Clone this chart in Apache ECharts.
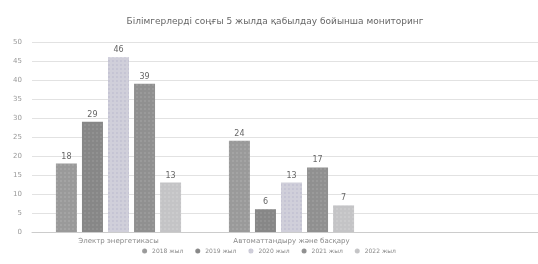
<!DOCTYPE html>
<html>
<head>
<meta charset="utf-8">
<script src="https://cdn.jsdelivr.net/npm/echarts@6/dist/echarts.min.js"></script>
<style>
html,body{margin:0;padding:0;background:#fff;}
#chart{width:538px;height:264px;}
</style>
</head>
<body>
<div id="chart"></div>
<script>
var titleText = 'Білімгерлерді соңғы 5 жылда қабылдау бойынша мониторинг';
var categories = ['Электр энергетикасы', 'Автоматтандыру және басқару'];
var years = ['2018 жыл', '2019 жыл', '2020 жыл', '2021 жыл', '2022 жыл'];
var v2018 = [18, 24];
var v2019 = [29, 6];
var v2020 = [46, 13];
var v2021 = [39, 17];
var v2022 = [13, 7];
var yTicks = [0, 5, 10, 15, 20, 25, 30, 35, 40, 45, 50];

var colors = ['#9a9a9a', '#878787', '#d0cfda', '#909090', '#c4c4c6'];
var decalColors = ['rgba(255,255,255,0.35)', 'rgba(255,255,255,0.3)', 'rgba(140,140,185,0.5)', 'rgba(255,255,255,0.3)', 'rgba(255,255,255,0.4)'];
var allValues = [v2018, v2019, v2020, v2021, v2022];

var chart = echarts.init(document.getElementById('chart'));

var series = years.map(function(name, i){
	return {
		name: name,
		type: 'bar',
		barWidth: 21,
		barGap: '24%',
		data: allValues[i],
		itemStyle: {
			color: colors[i],
			decal: {
				symbol: 'rect',
				symbolSize: 0.6,
				dashArrayX: [2, 2],
				dashArrayY: [2, 2],
				color: decalColors[i]
			}
		},
		label: {
			show: true,
			position: 'top',
			distance: 3,
			fontSize: 8,
			color: '#666',
			fontFamily: 'DejaVu Sans'
		}
	};
});

// third empty slot: the plot runs past the right edge like in the picture
chart.setOption({
	backgroundColor: '#fff',
	animation: false,
	title: {
		text: titleText,
		left: 270,
		textAlign: 'center',
		top: 12,
		textStyle: {fontSize: 9, fontWeight: 'normal', color: '#666', fontFamily: 'DejaVu Sans'}
	},
	legend: {
		data: years,
		bottom: 5,
		left: 'center',
		icon: 'circle',
		itemWidth: 5,
		itemHeight: 5,
		itemGap: 12,
		textStyle: {fontSize: 6, color: '#888', fontFamily: 'DejaVu Sans'}
	},
	grid: {left: 32, right: -13, top: 42, bottom: 32, outerBoundsMode: 'none'},
	xAxis: {
		type: 'category',
		data: categories.concat(['']),
		axisLine: {lineStyle: {color: '#ccc'}},
		axisTick: {show: false},
		axisLabel: {fontSize: 7, color: '#888', margin: 6, fontFamily: 'DejaVu Sans'}
	},
	yAxis: {
		type: 'value',
		min: yTicks[0],
		max: yTicks[yTicks.length - 1],
		interval: 5,
		axisLine: {show: false},
		axisTick: {show: false},
		axisLabel: {fontSize: 7, color: '#999', margin: 10, fontFamily: 'DejaVu Sans'},
		splitLine: {lineStyle: {color: '#e2e2e2'}}
	},
	series: series
});
</script>
</body>
</html>
